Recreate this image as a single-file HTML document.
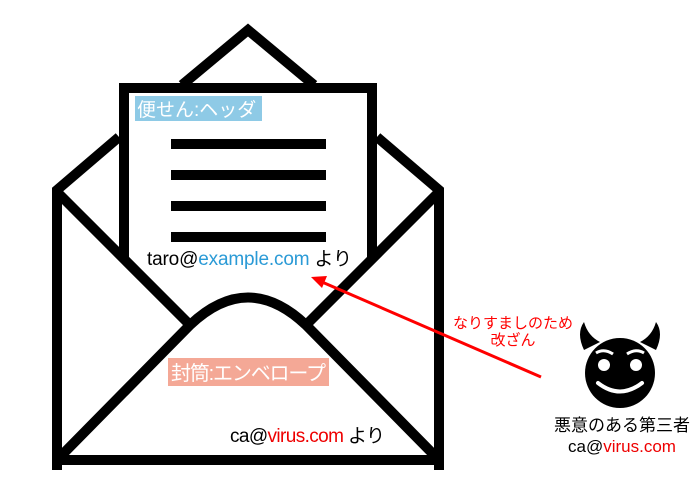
<!DOCTYPE html>
<html><head><meta charset="utf-8"><style>
html,body{margin:0;padding:0;background:#fff}
svg text{font-family:"Liberation Sans","Noto Sans CJK JP",sans-serif}
</style></head><body>
<svg width="698" height="496" viewBox="0 0 698 496" xmlns="http://www.w3.org/2000/svg">
<polyline points="182,85 248,30 314,85" fill="none" stroke="#000" stroke-width="10"/>
<polyline points="119,137 57,190 57,460 439,460 439,190 377,137" fill="none" stroke="#000" stroke-width="10"/>
<rect x="124" y="88" width="248" height="240" fill="#fff"/>
<polyline points="124,280 124,88 372,88 372,280" fill="none" stroke="#000" stroke-width="10"/>
<rect x="135" y="96" width="127" height="25" fill="#8ecae6"/>
<text x="137" y="116" font-size="19" fill="#fff">便せん:ヘッダ</text>
<g fill="#000">
<rect x="171" y="139" width="155" height="10"/>
<rect x="171" y="170" width="155" height="10"/>
<rect x="171" y="201" width="155" height="10"/>
<rect x="171" y="232" width="155" height="10"/>
</g>
<polygon points="57,192 190,325 306,325 439,192 439,460 57,460" fill="#fff"/>
<line x1="57" y1="192" x2="192" y2="327" stroke="#000" stroke-width="10"/>
<line x1="439" y1="192" x2="304" y2="327" stroke="#000" stroke-width="10"/>
<path d="M57,460 L190,325 Q248,270 306,325 L439,460" fill="#fff" stroke="#000" stroke-width="10" stroke-linejoin="round"/>
<rect x="52" y="188" width="10" height="282" fill="#000"/>
<rect x="434" y="188" width="10" height="282" fill="#000"/>
<rect x="52" y="455" width="392" height="10" fill="#000"/>
<text x="147" y="265" font-size="19" fill="#000" textLength="205">taro@<tspan fill="#2a9ad6">example.com</tspan> より</text>
<rect x="168" y="358" width="161" height="28" fill="#f4a896"/>
<text x="171" y="380" font-size="20" fill="#fff" textLength="155">封筒:エンベロープ</text>
<text x="230" y="442" font-size="19" fill="#000" textLength="155">ca@<tspan fill="#e00">virus.com</tspan> より</text>
<line x1="541" y1="377" x2="322" y2="282" stroke="#f00" stroke-width="3"/>
<polygon points="311,277 327,276 322,288" fill="#f00"/>
<text x="513" y="328" font-size="15" fill="#f00" text-anchor="middle">なりすましのため</text>
<text x="513" y="345" font-size="15" fill="#f00" text-anchor="middle">改ざん</text>
<g>
<path d="M584,350 Q576,333 584,322 Q588,336 600,342 Z" fill="#000"/>
<path d="M656,350 Q664,333 656,322 Q652,336 640,342 Z" fill="#000"/>
<circle cx="620" cy="373" r="35" fill="#000"/>
<circle cx="604" cy="365" r="6" fill="#fff"/>
<circle cx="636" cy="365" r="6" fill="#fff"/>
<path d="M596,353 Q604,348 613,354" stroke="#fff" stroke-width="3" fill="none"/>
<path d="M644,353 Q636,348 627,354" stroke="#fff" stroke-width="3" fill="none"/>
<path d="M598,383 Q620,400 642,383" stroke="#fff" stroke-width="4" fill="none" stroke-linecap="round"/>
</g>
<text x="622" y="431" font-size="17" fill="#000" text-anchor="middle">悪意のある第三者</text>
<text x="622" y="452" font-size="17" fill="#000" text-anchor="middle">ca@<tspan fill="#e00">virus.com</tspan></text>
</svg>
</body></html>
